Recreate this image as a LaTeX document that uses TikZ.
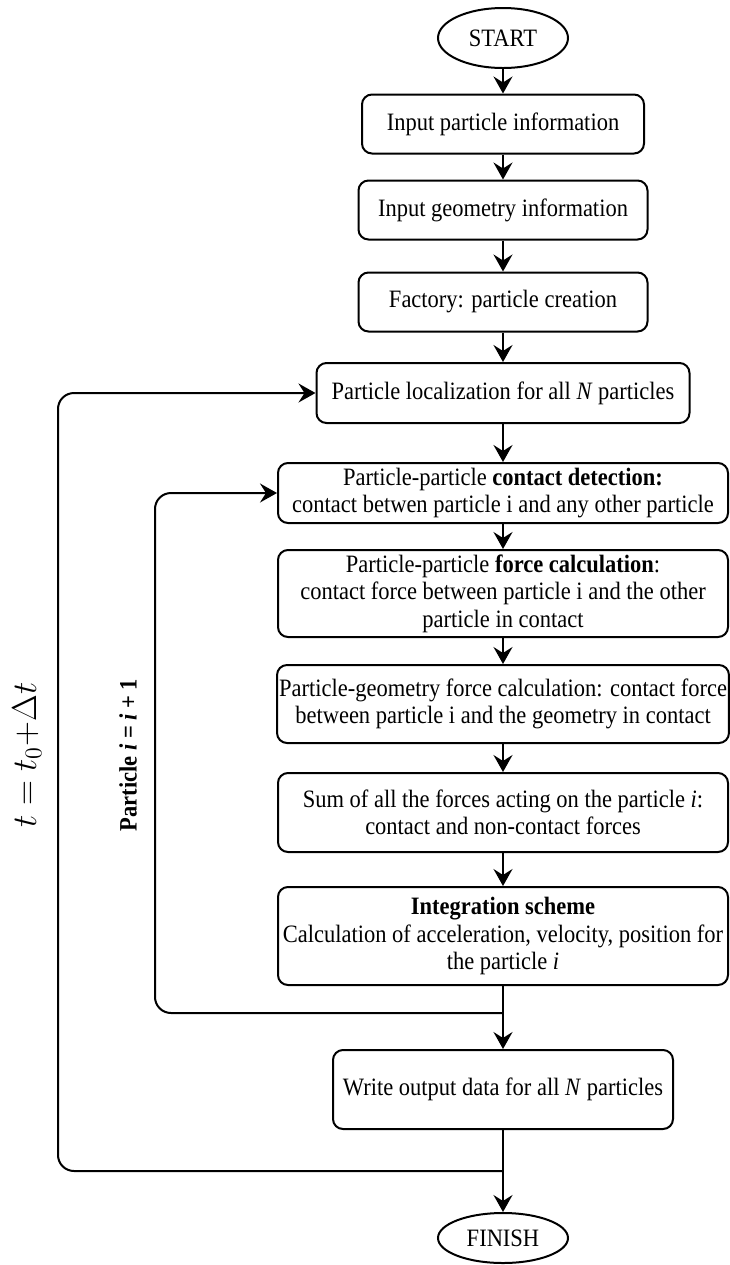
\documentclass[tikz,border=0pt]{standalone}
\usepackage{fontspec}
\setmainfont{Liberation Serif}[FakeStretch=0.9]
\usetikzlibrary{shapes.geometric,arrows.meta}
\begin{document}
\begin{tikzpicture}[x=0.5pt,y=-0.5pt,
  every node/.style={font=\fontsize{12.5}{13.8}\selectfont},
  box/.style={draw,line width=1pt,rounded corners=5pt,align=center,inner sep=1pt},
  term/.style={draw,line width=1pt,ellipse,inner sep=0pt,minimum width=65pt},
  arr/.style={line width=1pt,-{Stealth[length=8.5pt,width=9.5pt,inset=3pt]}},
  loop/.style={arr,rounded corners=8pt}]
\useasboundingbox (0,0) rectangle (729,1265);
\node[term,minimum height=30pt] (start) at (503,38) {START};
\node[box,minimum width=141pt,minimum height=29.5pt] (b1) at (503,124) {Input particle information};
\node[box,minimum width=144.5pt,minimum height=29.5pt] (b2) at (503,210) {Input geometry information};
\node[box,minimum width=144.5pt,minimum height=29.5pt] (b3) at (503,302) {Factory: particle creation};
\node[box,minimum width=186.5pt,minimum height=30pt] (b4) at (503,393) {Particle localization for all \textit{N} particles};
\node[box,minimum width=225pt,minimum height=30pt] (b5) at (503,493) {Particle-particle \textbf{contact detection:}\\contact betwen particle i and any other particle};
\node[box,minimum width=225pt,minimum height=43.5pt] (b6) at (503,593.5) {Particle-particle \textbf{force calculation}:\\contact force between particle i and the other\\particle in contact};
\node[box,minimum width=225pt,minimum height=39pt] (b7) at (503,704) {Particle-geometry force calculation: contact force\\between particle i and the geometry in contact};
\node[box,minimum width=225pt,minimum height=39.5pt] (b8) at (503,812.5) {Sum of all the forces acting on the particle \textit{i}:\\contact and non-contact forces};
\node[box,minimum width=225pt,minimum height=49pt] (b9) at (503,936) {\textbf{Integration scheme}\\Calculation of acceleration, velocity, position for\\the particle \textit{i}};
\node[box,minimum width=170pt,minimum height=39.5pt] (b10) at (503,1089.5) {Write output data for all \textit{N} particles};
\node[term,minimum height=25pt] (finish) at (503,1238) {FINISH};
\coordinate (j1) at (503,1013);
\coordinate (j2) at (503,1171);
\coordinate (inner) at (155,493);
\coordinate (outer) at (58,393);
\draw[arr] (start) -- (b1);
\draw[arr] (b1) -- (b2);
\draw[arr] (b2) -- (b3);
\draw[arr] (b3) -- (b4);
\draw[arr] (b4) -- (b5);
\draw[arr] (b5) -- (b6);
\draw[arr] (b6) -- (b7);
\draw[arr] (b7) -- (b8);
\draw[arr] (b8) -- (b9);
\draw[arr] (b9) -- (b10);
\draw[arr] (b10) -- (finish);
\draw[loop] (j1) -| (inner) -- (b5.west);
\draw[loop] (j2) -| (outer) -- (b4.west);
\node[rotate=90,font=\fontsize{17}{20}\selectfont] (tlab) at (27,755) {$t = t_0{+}\Delta t$};
\node[rotate=90,font=\fontsize{12.5}{14}\selectfont\bfseries] (plab) at (128,755) {Particle \textit{i} = \textit{i} + 1};
\end{tikzpicture}
\end{document}
